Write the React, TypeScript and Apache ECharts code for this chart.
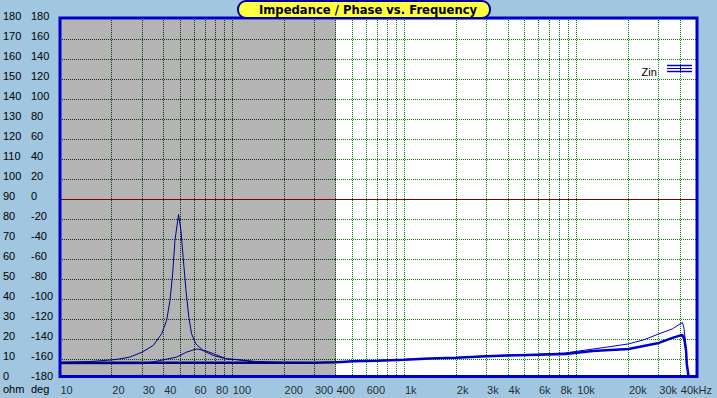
import React, { useEffect, useRef } from 'react';
import * as echarts from 'echarts';

// ---------- data ----------
const TITLE = 'Impedance / Phase vs. Frequency';
const LEGEND_NAME = 'Zin';

const X_MIN = 10;
const X_MAX = 50000;
const GRAY_END = 400;

const X_TICKS = [10, 20, 30, 40, 60, 80, 100, 200, 300, 400, 600, 1000, 2000, 3000, 4000, 6000, 8000, 10000, 20000, 30000, 40000];
const X_TICK_LABELS = ['10', '20', '30', '40', '60', '80', '100', '200', '300', '400', '600', '1k', '2k', '3k', '4k', '6k', '8k', '10k', '20k', '30k', '40kHz'];

const V_GRID = [20, 30, 40, 50, 60, 70, 80, 90, 100, 200, 300, 400, 500, 600, 700, 800, 900, 1000, 2000, 3000, 4000, 5000, 6000, 7000, 8000, 9000, 10000, 20000, 30000, 40000];
const H_GRID = [10, 20, 30, 40, 50, 60, 70, 80, 90, 100, 110, 120, 130, 140, 150, 160, 170];
const ZERO_DEG_OHM = 90;

// thick system curve
const A_F = [10, 100, 300, 400, 430, 500, 700, 1000, 1400, 2000, 3000, 4000, 6000, 8600, 12400, 20000, 30000, 36000, 41000, 42200, 43200, 43600, 44600];
const A_V = [8.35, 8.35, 8.35, 8.6, 8.8, 9.1, 9.4, 9.9, 10.5, 10.9, 11.6, 12.0, 12.4, 12.8, 14.2, 15.3, 18.3, 20.8, 22.3, 20.3, 14.5, 7.8, 2];

// thin curve with resonance peak
const B_F = [10, 15, 20, 22.3, 25.4, 30, 34.8, 38.9, 41.6, 43.5, 45.1, 46.5, 48.8, 50.4, 51.9, 53.9, 56, 58.1, 61.5, 67.8, 77.6, 92.8, 121, 138, 200, 300, 400, 1000, 2000, 3000, 4000, 6000, 8600, 15000, 20000, 24500, 30000, 36000, 41100, 41900, 42600, 43200, 43600, 44600];
const B_V = [8.5, 9.0, 9.8, 10.3, 11.2, 13.7, 17, 22.8, 29.5, 39.5, 52.8, 69.5, 82.5, 74.5, 61, 44.5, 31, 22.8, 17.8, 14.5, 12, 10.3, 9.5, 9.0, 8.6, 8.45, 8.7, 10.0, 11.0, 11.8, 12.2, 12.7, 13.3, 16.2, 17.8, 19.8, 22.8, 25.3, 28.5, 26.2, 21, 14.5, 7.8, 2];

// thin curve with small bump
const C_F = [10, 30, 33, 38, 47.6, 54.4, 62.1, 71, 81, 92.8, 106, 138, 200];
const C_V = [7.9, 7.9, 8.5, 9.5, 11.2, 13.7, 15.3, 14.2, 12.3, 10.3, 10.0, 8.5, 8.35];

const OHM_MAX = 180;
const DEG_MIN = -180;
const DEG_MAX = 180;
const AREA_BOTTOM = 1.5;

// ---------- styles ----------
const BG = '#A0C6E0';
const GRAY = '#B4B4B4';
const GRID_GREEN = '#008000';
const GRID_DARK = '#0A3A0A';
const ZERO_RED = '#800000';
const CURVE_BLUE = '#0000CC';
const CURVE_NAVY = '#000088';
const FONT = 'Liberation Sans, Arial, sans-serif';

const pairs = (fs: number[], vs: number[]) => fs.map((f, i) => [f, vs[i]]);

function buildOption(): any {
  const yLabel = (margin: number) => ({
    align: 'left',
    verticalAlign: 'bottom',
    lineHeight: 7,
    margin,
    color: '#000',
    fontSize: 11,
    fontFamily: FONT,
  });

  return {
    animation: false,
    backgroundColor: BG,
    grid: { left: 60, top: 19.5, width: 637, height: 360, containLabel: false, outerBoundsMode: 'none', show: false },
    xAxis: {
      type: 'log',
      logBase: 10,
      min: X_MIN,
      max: X_MAX,
      axisLine: { show: false },
      axisTick: { show: false },
      axisLabel: { show: false },
      splitLine: { show: false },
    },
    yAxis: [
      {
        type: 'value',
        min: 0,
        max: OHM_MAX,
        interval: 10,
        position: 'left',
        axisLine: { show: false },
        axisTick: { show: false },
        splitLine: { show: false },
        axisLabel: yLabel(57),
      },
      {
        type: 'value',
        min: DEG_MIN,
        max: DEG_MAX,
        interval: 20,
        position: 'left',
        offset: 0,
        axisLine: { show: false },
        axisTick: { show: false },
        splitLine: { show: false },
        axisLabel: yLabel(29),
      },
    ],
    visualMap: {
      type: 'piecewise',
      show: false,
      dimension: 0,
      seriesIndex: [3, 4, 5],
      pieces: [
        { gte: 1, lt: GRAY_END, color: CURVE_NAVY },
        { gte: GRAY_END, lte: 1000000, color: CURVE_BLUE },
      ],
    },
    series: [
      // plot background: white + gray band
      {
        type: 'line',
        data: [[X_MIN, 90]],
        symbol: 'none',
        silent: true,
        lineStyle: { opacity: 0 },
        markArea: {
          z: 1,
          silent: true,
          data: [
            [
              { coord: [X_MIN, AREA_BOTTOM], itemStyle: { color: '#FFFFFF', opacity: 1, borderWidth: 0 } },
              { coord: [X_MAX, OHM_MAX] },
            ],
            [
              { coord: [X_MIN, AREA_BOTTOM], itemStyle: { color: GRAY, opacity: 1, borderWidth: 0 } },
              { coord: [GRAY_END, OHM_MAX] },
            ],
          ],
        },
      },
      // vertical grid lines (dotted, pixel aligned)
      {
        type: 'custom',
        z: 3,
        silent: true,
        clip: false,
        data: V_GRID.map((f) => [f, 0]),
        renderItem: (params: any, api: any) => {
          const f = api.value(0);
          const p0 = api.coord([f, AREA_BOTTOM]);
          const p1 = api.coord([f, OHM_MAX]);
          const x = Math.floor(p0[0]) + 0.5;
          return {
            type: 'line',
            silent: true,
            shape: { x1: x, y1: Math.ceil(p1[1]), x2: x, y2: Math.floor(p0[1]) },
            style: { stroke: f <= GRAY_END ? GRID_DARK : GRID_GREEN, lineWidth: 1, lineDash: [1, 1] },
          };
        },
      },
      // horizontal grid lines (dotted, pixel aligned) + 0 deg line
      {
        type: 'custom',
        z: 3,
        silent: true,
        clip: false,
        data: H_GRID.map((v) => [X_MIN, v]),
        renderItem: (params: any, api: any) => {
          const v = api.value(1);
          const p0 = api.coord([X_MIN, v]);
          const pm = api.coord([GRAY_END, v]);
          const p1 = api.coord([X_MAX, v]);
          const y = Math.floor(p0[1]) + 0.5;
          const xa = Math.floor(p0[0]);
          const xm = Math.floor(pm[0]);
          const xb = Math.ceil(p1[0]);
          if (v === ZERO_DEG_OHM) {
            return {
              type: 'line',
              silent: true,
              shape: { x1: xa, y1: y, x2: xb, y2: y },
              style: { stroke: ZERO_RED, lineWidth: 1 },
            };
          }
          return {
            type: 'group',
            silent: true,
            children: [
              {
                type: 'line',
                shape: { x1: xa, y1: y, x2: xm, y2: y },
                style: { stroke: GRID_DARK, lineWidth: 1, lineDash: [1, 1] },
              },
              {
                type: 'line',
                shape: { x1: xm, y1: y, x2: xb, y2: y },
                style: { stroke: GRID_GREEN, lineWidth: 1, lineDash: [1, 1] },
              },
            ],
          };
        },
      },
      {
        name: LEGEND_NAME,
        type: 'line',
        z: 10,
        data: pairs(A_F, A_V),
        showSymbol: false,
        symbol: 'none',
        lineStyle: { width: 2.5 },
        silent: true,
      },
      {
        name: LEGEND_NAME,
        type: 'line',
        z: 11,
        data: pairs(B_F, B_V),
        showSymbol: false,
        symbol: 'none',
        lineStyle: { width: 1 },
        silent: true,
      },
      {
        name: LEGEND_NAME,
        type: 'line',
        z: 11,
        data: pairs(C_F, C_V),
        showSymbol: false,
        symbol: 'none',
        lineStyle: { width: 1 },
        silent: true,
      },
      // x-axis tick labels, left-aligned at each grid line
      {
        type: 'scatter',
        z: 12,
        clip: false,
        silent: true,
        symbolSize: 1,
        itemStyle: { color: 'rgba(0,0,0,0)' },
        data: X_TICKS.map((f, i) => ({ value: [f, 0], name: X_TICK_LABELS[i] })),
        label: {
          show: true,
          position: 'right',
          distance: 0,
          offset: [0, 10],
          formatter: '{b}',
          color: '#000',
          fontSize: 11,
          fontFamily: FONT,
        },
      },
    ],
    graphic: [
      {
        type: 'rect',
        z: 100,
        silent: true,
        shape: { x: 60, y: 18, width: 637, height: 358.5 },
        style: { fill: 'none', stroke: '#0000C8', lineWidth: 3 },
      },
      {
        type: 'rect',
        z: 110,
        silent: true,
        shape: { x: 238, y: 1, width: 252, height: 17, r: 8 },
        style: { fill: '#FFFF40', stroke: '#00009A', lineWidth: 2 },
      },
      {
        type: 'text',
        z: 111,
        silent: true,
        x: 368,
        y: 10,
        style: {
          text: TITLE,
          font: 'bold 11.6px "DejaVu Sans", sans-serif',
          fill: '#000',
          textAlign: 'center',
          textVerticalAlign: 'middle',
        },
      },
      {
        type: 'text',
        z: 100,
        silent: true,
        x: 3,
        y: 389,
        style: { text: 'ohm', font: '11px ' + FONT, fill: '#000', textAlign: 'left', textVerticalAlign: 'middle' },
      },
      {
        type: 'text',
        z: 100,
        silent: true,
        x: 31,
        y: 389,
        style: { text: 'deg', font: '11px ' + FONT, fill: '#000', textAlign: 'left', textVerticalAlign: 'middle' },
      },
      {
        type: 'text',
        z: 100,
        silent: true,
        x: 641.5,
        y: 71.5,
        style: { text: LEGEND_NAME, font: '11px ' + FONT, fill: '#000', textAlign: 'left', textVerticalAlign: 'middle' },
      },
      {
        type: 'line',
        z: 100,
        silent: true,
        shape: { x1: 667, y1: 65.5, x2: 692, y2: 65.5 },
        style: { stroke: CURVE_BLUE, lineWidth: 1.5 },
      },
      {
        type: 'line',
        z: 100,
        silent: true,
        shape: { x1: 667, y1: 68.5, x2: 692, y2: 68.5 },
        style: { stroke: CURVE_NAVY, lineWidth: 1 },
      },
      {
        type: 'line',
        z: 100,
        silent: true,
        shape: { x1: 667, y1: 71.5, x2: 692, y2: 71.5 },
        style: { stroke: CURVE_BLUE, lineWidth: 1.5 },
      },
      {
        type: 'line',
        z: 100,
        silent: true,
        shape: { x1: 680.5, y1: 66.5, x2: 680.5, y2: 70.5 },
        style: { stroke: CURVE_NAVY, lineWidth: 1 },
      },
    ],
  };
}

export default function App() {
  const ref = useRef<HTMLDivElement>(null);
  useEffect(() => {
    if (!ref.current) return;
    const chart = echarts.init(ref.current, null, { renderer: 'svg' });
    chart.setOption(buildOption());
    return () => chart.dispose();
  }, []);
  return (
    <div
      ref={ref}
      style={{ position: 'fixed', left: 0, top: 0, width: 717, height: 398, background: BG }}
    />
  );
}
